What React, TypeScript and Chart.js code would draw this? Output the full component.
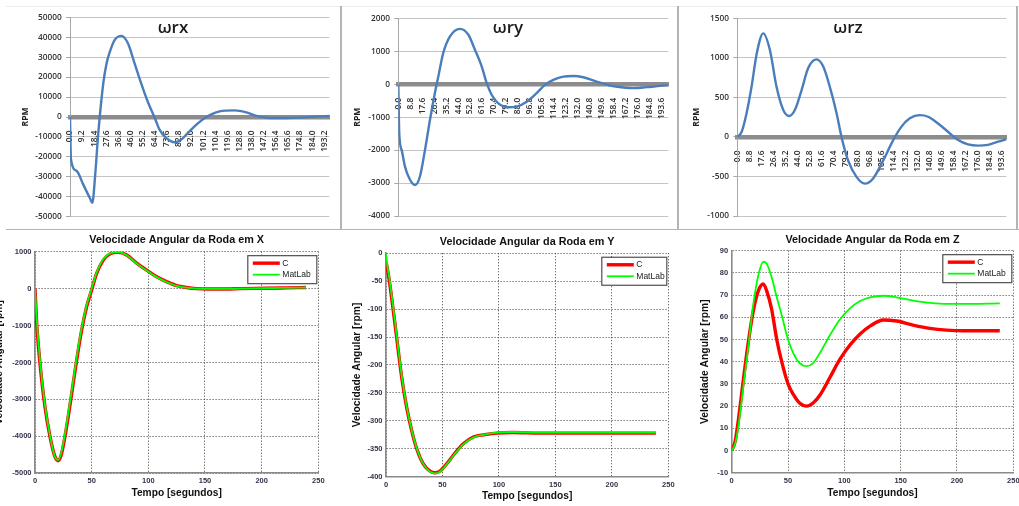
import { useEffect, useRef } from "react";
import { Chart, registerables } from "chart.js";

Chart.register(...registerables);

// ===================== DATA =====================
// Top row (Excel charts): time [s] and rotor speed [RPM]
const tRx = [0, 0.7, 5, 10, 15, 17, 18.9, 21.5, 25.3, 27.8, 30.3, 34, 39, 44, 49, 54, 59, 64.4, 68, 73, 79.5, 84.6, 89.6, 96, 103.5, 111, 118, 125, 134, 142.7, 151.5, 164, 179, 189, 197];
const omegaRx = [0, -21000, -27000, -33800, -40500, -43000, -31000, -8000, 17000, 27000, 32800, 38700, 40700, 37000, 27000, 17000, 7800, -500, -6300, -10500, -12700, -11300, -8000, -3800, 0, 2300, 3200, 3300, 2300, 400, -500, -500, -200, 300, 500];

const tRy = [0, 0.7, 2.5, 4.9, 8.6, 12.3, 15.9, 19.6, 23.3, 26.9, 29.4, 33, 38, 45.3, 51.5, 56.4, 61.3, 65, 68.6, 73.5, 80.9, 87, 94.4, 101.7, 107.8, 114, 121.3, 128.7, 136, 145.8, 155.6, 165.4, 172.8, 182.6, 192.4, 198];
const omegaRy = [0, -1490, -2000, -2500, -2900, -3060, -2800, -2000, -1080, -270, 230, 940, 1450, 1680, 1500, 1040, 540, 30, -320, -580, -700, -680, -530, -270, -20, 130, 230, 250, 210, 80, -40, -100, -120, -90, -50, -30];

const tRz = [0, 3.2, 6.8, 10.5, 14.2, 19, 23.9, 28.8, 33.7, 38, 42.2, 47.1, 52, 58.1, 63, 67.9, 72.8, 76.4, 81.3, 87.4, 93.5, 99.6, 106.9, 114.3, 120.4, 126.5, 133.8, 139.9, 147.2, 154.5, 161.9, 169.2, 176.5, 183.8, 191.2, 197.3];
const omegaRz = [0, 65, 300, 640, 1050, 1310, 1100, 630, 340, 265, 340, 590, 870, 980, 890, 630, 300, 0, -300, -505, -590, -525, -300, -40, 130, 235, 275, 255, 170, 65, -40, -95, -110, -100, -60, -30];

// Category tick labels of the Excel charts
const xTicksRx = [0, 9.2, 18.4, 27.6, 36.8, 46.0, 55.2, 64.4, 73.6, 82.8, 92.0, 101.2, 110.4, 119.6, 128.8, 138.0, 147.2, 156.4, 165.6, 174.8, 184.0, 193.2];
const xTicksRyz = [0, 8.8, 17.6, 26.4, 35.2, 44.0, 52.8, 61.6, 70.4, 79.2, 88.0, 96.8, 105.6, 114.4, 123.2, 132.0, 140.8, 149.6, 158.4, 167.2, 176.0, 184.8, 193.6];

// Bottom row (MATLAB charts): wheel angular velocity [rpm]
const tWX = [0, 1.5, 4.4, 8.8, 13.2, 17.6, 20.6, 23.5, 27.9, 32.4, 36.8, 41.2, 45.6, 50, 54.4, 60.3, 66.2, 73.5, 80.9, 89.7, 98.5, 107.4, 116, 125, 133.8, 142.6, 151.5, 169, 181, 204, 222, 239];
const wX_C = [0, -940, -2020, -3200, -4000, -4550, -4660, -4460, -3740, -2840, -1930, -1120, -490, -40, 410, 770, 940, 980, 910, 690, 500, 320, 190, 80, 30, 0, -10, -10, 0, 10, 20, 30];
const wX_MatLab = [0, -820, -1950, -3150, -3980, -4560, -4640, -4400, -3660, -2760, -1860, -1060, -450, 0, 440, 800, 955, 985, 905, 680, 490, 310, 180, 75, 25, 0, -10, -10, 0, 10, 20, 30];

const tWY = [0, 1.2, 3, 5, 8, 10.9, 13.9, 18.3, 22.7, 27.2, 33, 39, 43.4, 47.8, 53.7, 61, 68.5, 77.3, 86.2, 98, 112.7, 136, 166, 195, 239];
const wY_C = [-15, -28, -50, -80, -127, -175, -222, -276, -317, -350, -377, -390, -393, -390, -377, -358, -341, -329, -325, -322, -321, -322, -322, -322, -322];
const wY_MatLab = [0, -22, -45, -75, -122, -171, -219, -274, -316, -349, -377, -391, -394, -391, -378, -359, -342, -330, -325, -321, -320, -321, -321, -321, -321];

const tWZ = [0, 3, 6, 10.4, 14.8, 19.2, 23.7, 28, 31, 35.5, 40, 44.4, 50, 55, 60, 66.6, 72.5, 78.4, 87.3, 96, 105, 114, 122.8, 134.6, 146.4, 161, 176, 190.8, 205.6, 238];
const wZ_C = [0, 4, 14, 32, 49, 63, 72, 75, 72, 63.5, 50, 40, 30, 25, 21.5, 20, 21.5, 25, 33, 41, 47.5, 52.5, 56, 58.8, 58.3, 56.5, 55, 54.2, 53.9, 53.9];
const wZ_MatLab = [0, 3, 11, 29, 47, 66, 79, 85, 84.2, 78, 69, 61, 50, 43.5, 39.5, 38, 39.5, 44, 52, 59, 64, 67.3, 69, 69.7, 69, 67.5, 66.5, 66, 66, 66.3];

const xTicksTempo = [0, 50, 100, 150, 200, 250];
const yTicksWX = [-5000, -4000, -3000, -2000, -1000, 0, 1000];
const yTicksWY = [-400, -350, -300, -250, -200, -150, -100, -50, 0];
const yTicksWZ = [-10, 0, 10, 20, 30, 40, 50, 60, 70, 80, 90];

const seriesLabels = ["C", "MatLab"];

// ===================== STYLE =====================
const EXCEL_FONT = "'Open Sans', 'DejaVu Sans', sans-serif";
const MATLAB_FONT = "'Liberation Sans', Arial, sans-serif";

const innerTitle = {
  id: "innerTitle",
  afterDraw(chart: any, _args: any, opts: any) {
    if (!opts || !opts.text) return;
    const ctx = chart.ctx;
    ctx.save();
    ctx.font = opts.font;
    ctx.fillStyle = opts.color || "#000";
    ctx.textAlign = "center";
    ctx.textBaseline = "alphabetic";
    ctx.fillText(opts.text, opts.x, opts.y);
    ctx.restore();
  },
};

const boxLegend = {
  id: "boxLegend",
  afterDatasetsDraw(chart: any, _args: any, opts: any) {
    if (!opts || !opts.width) return;
    const { ctx, chartArea } = chart;
    const w = opts.width;
    const h = opts.height;
    const x0 = chartArea.right - opts.right - w;
    const y0 = chartArea.top + opts.top;
    ctx.save();
    ctx.fillStyle = "#ffffff";
    ctx.fillRect(x0, y0, w, h);
    ctx.strokeStyle = "#505050";
    ctx.lineWidth = 1.2;
    ctx.strokeRect(x0, y0, w, h);
    chart.data.datasets.forEach((ds: any, i: number) => {
      const y = y0 + opts.rowStart + i * opts.rowGap;
      ctx.strokeStyle = ds.borderColor;
      ctx.lineWidth = ds.borderWidth;
      ctx.beginPath();
      ctx.moveTo(x0 + 5, y);
      ctx.lineTo(x0 + 32, y);
      ctx.stroke();
      ctx.fillStyle = "#1a1a1a";
      ctx.font = opts.font;
      ctx.textAlign = "left";
      ctx.textBaseline = "middle";
      ctx.fillText(ds.label, x0 + 34.5, y);
    });
    ctx.restore();
  },
};

function excelChart(canvas: HTMLCanvasElement, c: any) {
  return new Chart(canvas, {
    type: "line",
    data: {
      datasets: [
        {
          label: c.name,
          data: c.times.map((t: number, i: number) => ({ x: t, y: c.values[i] })),
          borderColor: "#4a7ebb",
          borderWidth: 2.4,
          pointRadius: 0,
          cubicInterpolationMode: "monotone",
          fill: false,
        },
      ],
    },
    options: {
      responsive: false,
      animation: false,
      events: [],
      layout: { padding: { left: 0, right: c.padRight, top: c.padTop, bottom: c.padBottom } },
      plugins: {
        legend: { display: false },
        tooltip: { enabled: false },
        innerTitle: { text: c.name, x: c.titleX, y: 32.5, font: `600 17px ${EXCEL_FONT}`, color: "#1a1a1a" },
      } as any,
      scales: {
        x: {
          type: "linear",
          min: 0,
          max: c.xMax,
          position: { y: 0 } as any,
          grid: { display: false },
          border: { display: true, color: "#8c8c8c", width: 4.5 },
          afterBuildTicks: (s: any) => {
            s.ticks = c.xTicks.map((v: number) => ({ value: v }));
          },
          ticks: {
            autoSkip: false,
            minRotation: 90,
            maxRotation: 90,
            padding: 5.5,
            color: "#333333",
            font: { family: EXCEL_FONT, size: 8.3, weight: "600" },
            callback: (v: any) => Number(v).toFixed(1),
          },
        },
        y: {
          type: "linear",
          min: c.yMin,
          max: c.yMax,
          position: "left",
          afterFit: (s: any) => {
            s.width = c.yWidth;
          },
          grid: { color: "#c4c4c4", lineWidth: 1, tickLength: 4, tickColor: "#a8a8a8" },
          border: { display: true, color: "#a8a8a8", width: 1 },
          ticks: {
            stepSize: c.yStep,
            padding: 4.3,
            color: "#333333",
            font: { family: EXCEL_FONT, size: 8.3, weight: "600" },
            callback: (v: any) => String(v),
          },
          title: {
            display: true,
            text: "RPM",
            color: "#222",
            font: { family: EXCEL_FONT, size: 8.5, weight: "bold" },
            padding: { top: c.rpmPad, bottom: 0 },
          },
        },
      },
    } as any,
    plugins: [innerTitle],
  });
}

function matlabChart(canvas: HTMLCanvasElement, c: any) {
  const mk = (vals: number[]) => c.times.map((t: number, i: number) => ({ x: t, y: vals[i] }));
  return new Chart(canvas, {
    type: "line",
    data: {
      datasets: [
        { label: seriesLabels[0], data: mk(c.cVals), order: 2, borderColor: "#ff0000", borderWidth: 3.4, pointRadius: 0, cubicInterpolationMode: "monotone", fill: false },
        { label: seriesLabels[1], data: mk(c.mVals), order: 1, borderColor: "#00ff00", borderWidth: 1.8, pointRadius: 0, cubicInterpolationMode: "monotone", fill: false },
      ],
    },
    options: {
      responsive: false,
      animation: false,
      events: [],
      layout: { padding: { left: 0, right: c.padRight, top: 0, bottom: 0 } },
      plugins: {
        legend: { display: false },
        tooltip: { enabled: false },
        title: {
          display: true,
          text: c.title,
          fullSize: false,
          color: "#111",
          font: { family: MATLAB_FONT, size: 10.8, weight: "bold", lineHeight: 1.2 },
          padding: { top: c.tPadTop, bottom: c.tPadBottom },
        },
        boxLegend: { width: c.legW, height: 28, right: 1.5, top: 4, rowStart: 7.5, rowGap: 11.5, font: `8.5px ${MATLAB_FONT}` },
      } as any,
      scales: {
        x: {
          type: "linear",
          min: 0,
          max: 250,
          afterBuildTicks: (s: any) => {
            s.ticks = xTicksTempo.map((v) => ({ value: v }));
          },
          afterFit: (s: any) => {
            s.height = c.xHeight;
          },
          grid: { color: "#3c3c3c", lineWidth: 1, drawTicks: false },
          border: { display: true, color: "#8a8a8a", width: 1.6, dash: [1, 2] },
          ticks: {
            padding: 3.5,
            maxRotation: 0,
            color: "#33334a",
            font: { family: MATLAB_FONT, size: 7.5, weight: "bold" },
            callback: (v: any) => String(v),
          },
          title: {
            display: true,
            text: "Tempo [segundos]",
            color: "#111",
            font: { family: MATLAB_FONT, size: 10.2, weight: "bold", lineHeight: 1.2 },
            padding: { top: 0, bottom: c.xtPad },
          },
        },
        y: {
          type: "linear",
          min: c.yTicks[0],
          max: c.yTicks[c.yTicks.length - 1],
          afterBuildTicks: (s: any) => {
            s.ticks = c.yTicks.map((v: number) => ({ value: v }));
          },
          afterFit: (s: any) => {
            s.width = c.yWidth;
          },
          grid: { color: "#3c3c3c", lineWidth: 1, drawTicks: false },
          border: { display: true, color: "#8a8a8a", width: 1.6, dash: [1, 2] },
          ticks: {
            padding: 3.5,
            color: "#33334a",
            font: { family: MATLAB_FONT, size: 7.5, weight: "bold" },
            callback: (v: any) => String(v),
          },
          title: {
            display: true,
            text: "Velocidade Angular [rpm]",
            color: "#111",
            font: { family: MATLAB_FONT, size: 10.3, weight: "bold", lineHeight: 1.2 },
            padding: { top: c.ytPad, bottom: 0 },
          },
        },
      },
    } as any,
    plugins: [boxLegend],
  });
}

const abs = (left: number, top: number): any => ({ position: "absolute", left, top });

export default function App() {
  const rA = useRef<HTMLCanvasElement>(null);
  const rB = useRef<HTMLCanvasElement>(null);
  const rC = useRef<HTMLCanvasElement>(null);
  const rD = useRef<HTMLCanvasElement>(null);
  const rE = useRef<HTMLCanvasElement>(null);
  const rF = useRef<HTMLCanvasElement>(null);

  useEffect(() => {
    const charts = [
      excelChart(rA.current!, { name: "ωrx", times: tRx, values: omegaRx, xTicks: xTicksRx, xMax: 197, yMin: -50000, yMax: 50000, yStep: 10000, yWidth: 70, padRight: 10, padTop: 17.3, padBottom: 12.3, rpmPad: 20.9, titleX: 173 }),
      excelChart(rB.current!, { name: "ωry", times: tRy, values: omegaRy, xTicks: xTicksRyz, xMax: 198.5, yMin: -4000, yMax: 2000, yStep: 1000, yWidth: 57.3, padRight: 9.7, padTop: 18.3, padBottom: 13, rpmPad: 11.9, titleX: 167 }),
      excelChart(rC.current!, { name: "ωrz", times: tRz, values: omegaRz, xTicks: xTicksRyz, xMax: 197.3, yMin: -1000, yMax: 1500, yStep: 500, yWidth: 57.3, padRight: 10.3, padTop: 18.3, padBottom: 13, rpmPad: 11.9, titleX: 168 }),
      matlabChart(rD.current!, { title: "Velocidade Angular da Roda em X", times: tWX, cVals: wX_C, mVals: wX_MatLab, yTicks: yTicksWX, yWidth: 65, padRight: 21.7, tPadTop: 3.5, tPadBottom: 5.2, xHeight: 32.7, xtPad: 6.6, ytPad: 23.3, legW: 69 }),
      matlabChart(rE.current!, { title: "Velocidade Angular da Roda em Y", times: tWY, cVals: wY_C, mVals: wY_MatLab, yTicks: yTicksWY, yWidth: 46, padRight: 11.7, tPadTop: 5.9, tPadBottom: 4.4, xHeight: 29.3, xtPad: 3.9, ytPad: 10.8, legW: 65 }),
      matlabChart(rF.current!, { title: "Velocidade Angular da Roda em Z", times: tWZ, cVals: wZ_C, mVals: wZ_MatLab, yTicks: yTicksWZ, yWidth: 51.7, padRight: 16.7, tPadTop: 4.0, tPadBottom: 3.7, xHeight: 33.3, xtPad: 6.9, ytPad: 18.8, legW: 69 }),
    ];
    return () => charts.forEach((ch) => ch.destroy());
  }, []);

  const line = (s: any) => <div style={{ position: "absolute", background: "#b4b4b4", ...s }} />;

  return (
    <div style={{ position: "absolute", left: 0, top: 0, width: 1019, height: 506, overflow: "hidden", background: "#ffffff" }}>
      {line({ left: 6, top: 6, width: 1013, height: 1, background: "#ededed" })}
      {line({ left: 340, top: 6, width: 1.5, height: 223 })}
      {line({ left: 677, top: 6, width: 1.5, height: 223 })}
      {line({ left: 1016, top: 6, width: 1.5, height: 223 })}
      {line({ left: 6, top: 228.5, width: 1013, height: 1.5 })}
      <canvas ref={rA} width={340} height={229} style={abs(0, 0)} />
      <canvas ref={rB} width={337} height={229} style={abs(341, 0)} />
      <canvas ref={rC} width={337} height={229} style={abs(680, 0)} />
      <canvas ref={rD} width={370} height={276} style={abs(-30, 230)} />
      <canvas ref={rE} width={340} height={276} style={abs(340, 230)} />
      <canvas ref={rF} width={350} height={276} style={abs(680, 230)} />
    </div>
  );
}
